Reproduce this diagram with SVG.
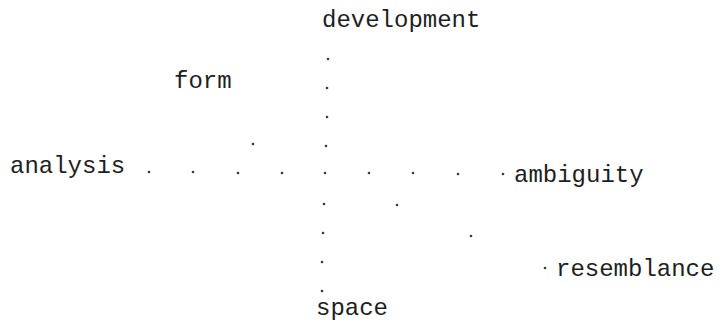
<svg xmlns="http://www.w3.org/2000/svg" width="728" height="323" viewBox="0 0 728 323">
<style>
.t{font-family:"Liberation Mono","DejaVu Sans Mono",monospace;font-size:24px;fill:#1e1e1e}
.d{fill:#3a3a3a}
</style>
<rect width="728" height="323" fill="#fff"/>
<g id="development"><text class="t" x="322" y="27">development</text></g>
<g id="form"><text class="t" x="174" y="88">form</text></g>
<g id="analysis"><text class="t" x="10" y="173">analysis</text></g>
<g id="ambiguity"><text class="t" x="514" y="182">ambiguity</text></g>
<g id="resemblance"><text class="t" x="556" y="276">resemblance</text></g>
<g id="space"><text class="t" x="316" y="315">space</text></g>
<g id="connectors">
<circle class="d" cx="328" cy="59" r="1.3"/>
<circle class="d" cx="327" cy="88" r="1.3"/>
<circle class="d" cx="327" cy="117" r="1.3"/>
<circle class="d" cx="326" cy="146" r="1.3"/>
<circle class="d" cx="324" cy="204" r="1.3"/>
<circle class="d" cx="323" cy="233" r="1.3"/>
<circle class="d" cx="322" cy="262" r="1.3"/>
<circle class="d" cx="322" cy="291" r="1.3"/>
<circle class="d" cx="149" cy="172" r="1.3"/>
<circle class="d" cx="193" cy="172" r="1.3"/>
<circle class="d" cx="238" cy="173" r="1.3"/>
<circle class="d" cx="282" cy="173" r="1.3"/>
<circle class="d" cx="325" cy="173" r="1.3"/>
<circle class="d" cx="369" cy="173" r="1.3"/>
<circle class="d" cx="413" cy="173" r="1.3"/>
<circle class="d" cx="458" cy="174" r="1.3"/>
<circle class="d" cx="503" cy="174" r="1.3"/>
<circle class="d" cx="253" cy="144" r="1.3"/>
<circle class="d" cx="397" cy="205" r="1.3"/>
<circle class="d" cx="471" cy="236" r="1.3"/>
<circle class="d" cx="545" cy="268" r="1.3"/>
</g>
</svg>
